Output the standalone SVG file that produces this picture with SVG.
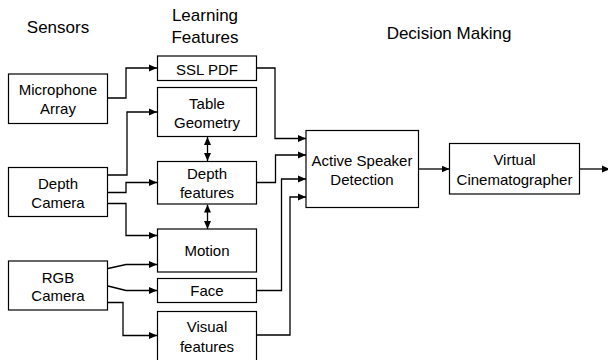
<svg xmlns="http://www.w3.org/2000/svg" width="608" height="360" viewBox="0 0 608 360">
<defs>
<style>
.box{fill:#fff;stroke:#000;stroke-width:1.2}
.ln{fill:none;stroke:#000;stroke-width:1.3}
text{font-family:"Liberation Sans",Arial,sans-serif;font-size:15px;fill:#000;text-anchor:middle}
.hd{font-size:17px}
</style>
<marker id="ah" markerWidth="8" markerHeight="8" refX="8" refY="4" orient="auto" markerUnits="userSpaceOnUse">
<path d="M0,0.5 L8,4 L0,7.5 Z" fill="#000"/>
</marker>
<marker id="as" markerWidth="8" markerHeight="8" refX="0" refY="4" orient="auto" markerUnits="userSpaceOnUse">
<path d="M8,0.5 L0,4 L8,7.5 Z" fill="#000"/>
</marker>
</defs>
<rect width="608" height="360" fill="#fff"/>
<g id="headers">
<text class="hd" x="58" y="33">Sensors</text>
<text class="hd" x="205" y="20.5">Learning</text>
<text class="hd" x="205" y="42.5">Features</text>
<text class="hd" x="449" y="38.5">Decision Making</text>
</g>
<g id="connectors">
<path class="ln" d="M108,98 H126 V68 H157" marker-end="url(#ah)"/>
<path class="ln" d="M108,175 H127 V112 H157" marker-end="url(#ah)"/>
<path class="ln" d="M108,192.5 H126 V182.5 H157" marker-end="url(#ah)"/>
<path class="ln" d="M108,203.5 H126 V235.5 H157" marker-end="url(#ah)"/>
<path class="ln" d="M108,268.5 L126,264.5 H157" marker-end="url(#ah)"/>
<path class="ln" d="M108,286 L126,290.5 H157" marker-end="url(#ah)"/>
<path class="ln" d="M108,302.5 H123 V335.5 H157" marker-end="url(#ah)"/>
<path class="ln" d="M207.5,137 V161" marker-start="url(#as)" marker-end="url(#ah)"/>
<path class="ln" d="M207.5,204.5 V229" marker-start="url(#as)" marker-end="url(#ah)"/>
<path class="ln" d="M257,68 H275 V138.5 H306" marker-end="url(#ah)"/>
<path class="ln" d="M257,182.5 H275.5 V155 H306" marker-end="url(#ah)"/>
<path class="ln" d="M257,290.5 H281.5 V179 H306" marker-end="url(#ah)"/>
<path class="ln" d="M257,335 H290 V197 H306" marker-end="url(#ah)"/>
<path class="ln" d="M418.5,169 H449.5" marker-end="url(#ah)"/>
<path class="ln" d="M579.5,169 H610" marker-end="url(#ah)"/>
</g>
<g id="mic"><rect class="box" x="8.5" y="74" width="99" height="49.5"/><text x="58" y="95">Microphone</text><text x="58" y="113.5">Array</text></g>
<g id="depthcam"><rect class="box" x="8.5" y="167.5" width="99" height="49"/><text x="58" y="188.5">Depth</text><text x="58" y="207.5">Camera</text></g>
<g id="rgbcam"><rect class="box" x="8.5" y="261" width="99" height="49"/><text x="58" y="282.5">RGB</text><text x="58" y="301">Camera</text></g>
<g id="ssl"><rect class="box" x="157.5" y="56" width="99" height="24.5"/><text x="207" y="74.5">SSL PDF</text></g>
<g id="table"><rect class="box" x="157.5" y="87.5" width="99" height="49"/><text x="207" y="108.5">Table</text><text x="207" y="127.5">Geometry</text></g>
<g id="depthfeat"><rect class="box" x="157.5" y="161.5" width="99" height="42.5"/><text x="207" y="178.5">Depth</text><text x="207" y="197.5">features</text></g>
<g id="motion"><rect class="box" x="157.5" y="229" width="99" height="43"/><text x="207" y="255.5">Motion</text></g>
<g id="face"><rect class="box" x="157.5" y="278.5" width="99" height="24"/><text x="207" y="296">Face</text></g>
<g id="visual"><rect class="box" x="157.5" y="311.5" width="99" height="52"/><text x="207" y="331.5">Visual</text><text x="207" y="351.5">features</text></g>
<g id="asd"><rect class="box" x="306" y="130.5" width="112.5" height="77"/><text x="362" y="165.5">Active Speaker</text><text x="362" y="184.5">Detection</text></g>
<g id="vc"><rect class="box" x="449.5" y="143.5" width="130" height="50.5"/><text x="514.5" y="165">Virtual</text><text x="514.5" y="184.5">Cinematographer</text></g>
</svg>
